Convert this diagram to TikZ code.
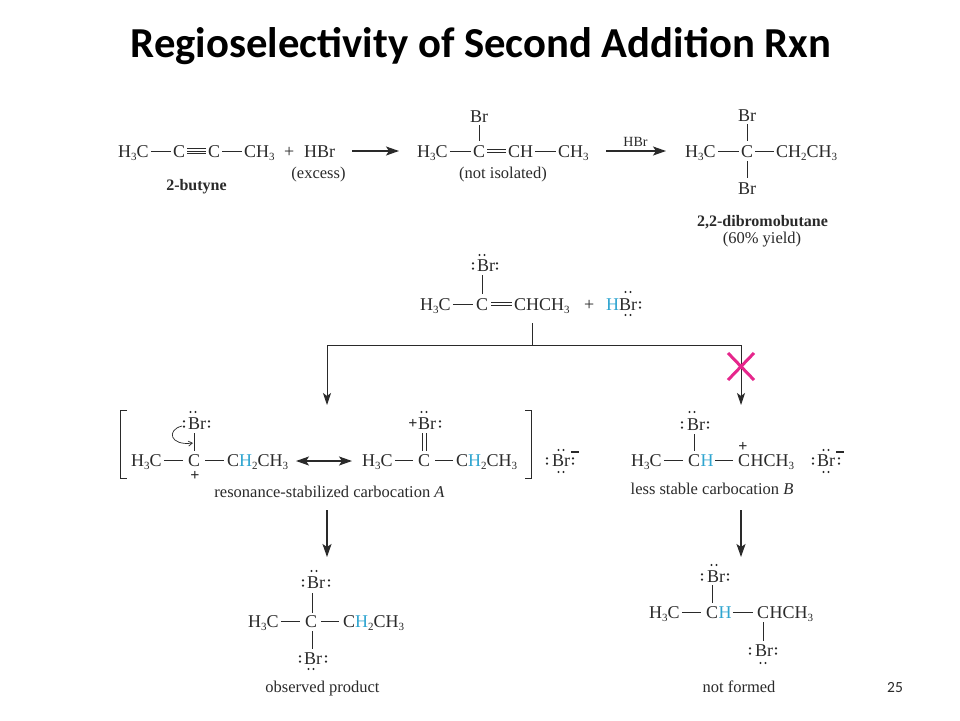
\documentclass[tikz,border=0pt]{standalone}
\usepackage{fontspec}
\setmainfont{Liberation Serif}
\newfontfamily\calib{Carlito}
\usetikzlibrary{arrows.meta}
\definecolor{ink}{HTML}{2A2A2A}
\definecolor{hblue}{HTML}{2FA5D0}
\definecolor{xpink}{HTML}{E6268C}
\newcommand{\sbs}[1]{\raisebox{-3.2pt}{\fontsize{11}{11}\selectfont #1}}
\newcommand{\HB}{\textcolor{hblue}{H}}
\newcommand{\lph}[2]{\fill[ink] (#1-2.5,#2) circle (1.2pt) (#1+2.5,#2) circle (1.2pt);}
\newcommand{\lpv}[2]{\fill[ink] (#1,#2-2.6) circle (1.2pt) (#1,#2+2.6) circle (1.2pt);}
\tikzset{
 atom/.style={anchor=base west,inner sep=0pt,text height=12pt,text depth=0pt,font=\fontsize{18}{18}\selectfont,text=ink},
 lab/.style={anchor=base,inner sep=0pt,font=\fontsize{16.5}{18}\selectfont,text=ink},
 blab/.style={lab,font=\fontsize{16}{18}\selectfont\bfseries},
 chg/.style={anchor=center,inner sep=0pt,font=\fontsize{16}{16}\selectfont\bfseries,text=ink},
 bond/.style={draw=ink,line width=1pt},
 line/.style={draw=ink,line width=.9pt},
 rxn/.style={draw=ink,line width=1.5pt,-{Stealth[length=13pt,width=9pt,inset=3pt]}},
 brk/.style={draw=ink,line width=.85pt}
}
\begin{document}
\begin{tikzpicture}[x=1pt,y=-1pt]
\useasboundingbox (0,0) rectangle (960,720);
\fill[white] (0,0) rectangle (960,720);
% title
\node[anchor=base,inner sep=0pt,font=\calib\bfseries\fontsize{42.7}{44}\selectfont,text=black] (title) at (481,57) {Regioselectivity of Second Addition Rxn};
\node[anchor=base,inner sep=0pt,font=\calib\fontsize{15.5}{15.5}\selectfont,text=ink] (page) at (895,692) {25};

% --- row 1
\node[atom] (a1) at (118,157) {H\sbs{3}C};
\node[atom] (a2) at (173,157) {C};
\node[atom] (a3) at (208,157) {C};
\node[atom] (a4) at (244,157) {CH\sbs{3}};
\draw[bond] ([xshift=2pt]a1.east) -- ([xshift=-2pt]a2.west);
\draw[bond] ([xshift=2pt,yshift=2.6pt]a2.east) -- ([xshift=-2pt,yshift=2.6pt]a3.west);
\draw[bond] ([xshift=2pt]a2.east) -- ([xshift=-2pt]a3.west);
\draw[bond] ([xshift=2pt,yshift=-2.6pt]a2.east) -- ([xshift=-2pt,yshift=-2.6pt]a3.west);
\draw[bond] ([xshift=2pt]a3.east) -- ([xshift=-2pt]a4.west);
\node[atom] (pl1) at (284,157) {+};
\node[atom] (hbr1) at (304,157) {HBr};
\node[lab] (exc) at (318.5,178) {(excess)};
\node[blab] (but) at (196.5,190) {2-butyne};
\coordinate (r1a) at (352,151); \coordinate (r1b) at (399,151);
\draw[rxn] (r1a) -- (r1b);

\node[atom] (b1) at (417,157) {H\sbs{3}C};
\node[atom] (b2) at (473,157) {C};
\node[atom] (b3) at (508,157) {CH};
\node[atom] (b4) at (558,157) {CH\sbs{3}};
\node[atom] (bbr) at (470,122) {Br};
\draw[bond] ([xshift=2pt]b1.east) -- ([xshift=-2pt]b2.west);
\draw[bond] ([xshift=2pt,yshift=1.6pt]b2.east) -- ([xshift=-2pt,yshift=1.6pt]b3.west);
\draw[bond] ([xshift=2pt,yshift=-1.6pt]b2.east) -- ([xshift=-2pt,yshift=-1.6pt]b3.west);
\draw[bond] ([xshift=2pt]b3.east) -- ([xshift=-2pt]b4.west);
\draw[bond] ([yshift=4pt]b2.north) -- ([yshift=-3pt]b2.north |- bbr.south);
\node[lab] (nis) at (503,178) {(not isolated)};
\coordinate (r2a) at (606,151); \coordinate (r2b) at (666,151);
\draw[rxn] (r2a) -- (r2b);
\node[lab,font=\fontsize{14}{14}\selectfont] (hbr2) at (635.5,146) {HBr};

\node[atom] (c1) at (685,157) {H\sbs{3}C};
\node[atom] (c2) at (741,157) {C};
\node[atom] (c3) at (776,157) {CH\sbs{2}CH\sbs{3}};
\node[atom] (cbr1) at (738,121) {Br};
\node[atom] (cbr2) at (738,194) {Br};
\draw[bond] ([xshift=2pt]c1.east) -- ([xshift=-2pt]c2.west);
\draw[bond] ([xshift=2pt]c2.east) -- ([xshift=-2pt]c3.west);
\draw[bond] ([yshift=4pt]c2.north) -- ([yshift=-3pt]c2.north |- cbr1.south);
\draw[bond] ([yshift=-4pt]c2.south) -- ([yshift=4pt]c2.south |- cbr2.north);
\node[blab] (dib) at (762.5,226) {2,2-dibromobutane};
\node[lab] (yld) at (762,243) {(60\% yield)};

% --- middle reagent
\node[atom] (d1) at (420,310) {H\sbs{3}C};
\node[atom] (d2) at (476,310) {C};
\node[atom] (d3) at (514,310) {CHCH\sbs{3}};
\node[atom] (dbr) at (477,271) {Br};
\draw[bond] ([xshift=2pt]d1.east) -- ([xshift=-3pt]d2.west);
\draw[bond] ([xshift=3pt,yshift=1.6pt]d2.east) -- ([xshift=-2pt,yshift=1.6pt]d3.west);
\draw[bond] ([xshift=3pt,yshift=-1.6pt]d2.east) -- ([xshift=-2pt,yshift=-1.6pt]d3.west);
\draw[bond] ([yshift=4pt]d2.north) -- ([yshift=-4pt]d2.north |- dbr.south);
\lph{482}{255} \lpv{473}{266} \lpv{497}{266}
\node[atom] (pl2) at (584,310) {+};
\node[atom] (hbr3) at (606,310) {\HB Br};
\lph{628}{292} \lph{628}{315} \lpv{640}{305}

% --- branch
\coordinate (j0) at (532,323);
\coordinate (j1) at (532,345);
\coordinate (jl) at (327,345);
\coordinate (jr) at (741,345);
\coordinate (jle) at (327,405);
\coordinate (jre) at (741,405);
\draw[line] (j0) -- (j1);
\draw[line,-{Stealth[length=12pt,width=8pt,inset=3pt]}] (j1) -- (jl) -- (jle);
\draw[line,-{Stealth[length=12pt,width=8pt,inset=3pt]}] (j1) -- (jr) -- (jre);
\draw[xpink,line width=3pt] (728,353) -- (754,380) (754,353) -- (728,380);

% --- left bracket, structure 1
\coordinate (bl1) at (127,410); \coordinate (bl2) at (120,410); \coordinate (bl3) at (120,478); \coordinate (bl4) at (127,478);
\draw[brk] (bl1) -- (bl2) -- (bl3) -- (bl4);
\node[atom] (e1) at (131,466) {H\sbs{3}C};
\node[atom] (e2) at (188,466) {C};
\node[atom] (e3) at (227,466) {C\HB\sbs{2}CH\sbs{3}};
\node[atom] (ebr) at (188,429) {Br};
\draw[bond] ([xshift=2pt]e1.east) -- ([xshift=-5pt]e2.west);
\draw[bond] ([xshift=5pt]e2.east) -- ([xshift=-3pt]e3.west);
\draw[bond] ([yshift=3pt]e2.north) -- ([yshift=-4pt]e2.north |- ebr.south);
\lph{193}{412} \lpv{184}{424} \lpv{209}{424}
\node[chg] (ep) at (195,475.5) {+};
\coordinate (ca) at (182,426); \coordinate (cb) at (193,443);
\draw[ink,line width=.7pt,-{Straight Barb[length=4pt,width=5pt]}] (ca) .. controls (166,430) and (170,446) .. (cb);
\coordinate (da) at (296,461); \coordinate (db) at (352,461);
\draw[line width=1.5pt,draw=ink,{Stealth[length=13pt,width=9pt,inset=3pt]}-{Stealth[length=13pt,width=9pt,inset=3pt]}] (da) -- (db);

% structure 2
\node[atom] (f1) at (362,466) {H\sbs{3}C};
\node[atom] (f2) at (418,466) {C};
\node[atom] (f3) at (456,466) {C\HB\sbs{2}CH\sbs{3}};
\node[atom] (fbr) at (418,429) {Br};
\draw[bond] ([xshift=2pt]f1.east) -- ([xshift=-5pt]f2.west);
\draw[bond] ([xshift=5pt]f2.east) -- ([xshift=-3pt]f3.west);
\draw[bond] ([xshift=-1.8pt,yshift=3pt]f2.north) -- ([xshift=-1.8pt,yshift=-4pt]f2.north |- fbr.south);
\draw[bond] ([xshift=1.8pt,yshift=3pt]f2.north) -- ([xshift=1.8pt,yshift=-4pt]f2.north |- fbr.south);
\lph{424}{412} \lpv{440}{424}
\node[chg] (fp) at (413,424) {+};
\coordinate (br1) at (525,410); \coordinate (br2) at (531,410); \coordinate (br3) at (531,478); \coordinate (br4) at (525,478);
\draw[brk] (br1) -- (br2) -- (br3) -- (br4);
\node[atom] (gbr) at (552,466) {Br};
\lph{561}{450} \lph{561}{472} \lpv{547}{461} \lpv{573}{461}
\coordinate (gm1) at (571,452); \coordinate (gm2) at (579,452);
\draw[ink,line width=1.5pt] (gm1) -- (gm2);
\node[lab] (resl) at (329.5,497) {resonance-stabilized carbocation \textit{A}};

% --- carbocation B
\node[atom] (h1) at (631,466) {H\sbs{3}C};
\node[atom] (h2) at (688,466) {C};
\node[atom] (h2h) at (h2.base east) {\HB};
\node[atom] (h3) at (738,466) {C};
\node[atom] (h3r) at (h3.base east) {HCH\sbs{3}};
\node[atom] (hbr) at (687,430) {Br};
\draw[bond] ([xshift=2pt]h1.east) -- ([xshift=-5pt]h2.west);
\draw[bond] ([xshift=1pt]h2h.east) -- ([xshift=-5pt]h3.west);
\draw[bond] ([yshift=3pt]h2.north) -- ([yshift=-4pt]h2.north |- hbr.south);
\lph{692}{412} \lpv{682}{425} \lpv{708}{425}
\node[chg] (hp) at (743,446.5) {+};
\node[atom] (ibr) at (817,466) {Br};
\lph{826}{450} \lph{826}{472} \lpv{813}{461} \lpv{839}{461}
\coordinate (im1) at (836,452); \coordinate (im2) at (844,452);
\draw[ink,line width=1.5pt] (im1) -- (im2);
\node[lab] (lss) at (712,494) {less stable carbocation \textit{B}};

% --- down arrows
\coordinate (v1a) at (327,510); \coordinate (v1b) at (327,557);
\coordinate (v2a) at (741,510); \coordinate (v2b) at (741,557);
\draw[rxn] (v1a) -- (v1b);
\draw[rxn] (v2a) -- (v2b);

% --- observed product
\node[atom] (k1) at (248,627) {H\sbs{3}C};
\node[atom] (k2) at (305,627) {C};
\node[atom] (k3) at (343,627) {C\HB\sbs{2}CH\sbs{3}};
\node[atom] (kbr1) at (307,588) {Br};
\node[atom] (kbr2) at (304,664) {Br};
\draw[bond] ([xshift=2pt]k1.east) -- ([xshift=-5pt]k2.west);
\draw[bond] ([xshift=4pt]k2.east) -- ([xshift=-4pt]k3.west);
\draw[bond] ([xshift=1pt,yshift=2pt]k2.north) -- ([xshift=1pt,yshift=-5pt]k2.north |- kbr1.south);
\draw[bond] ([xshift=1pt,yshift=-4pt]k2.south) -- ([xshift=1pt,yshift=3pt]k2.south |- kbr2.north);
\lph{314}{571} \lpv{303}{583} \lpv{329}{583}
\lph{311}{669} \lpv{300}{659} \lpv{326}{659}
\node[lab] (obs) at (322.5,692) {observed product};

% --- not formed
\node[atom] (m1) at (649,618) {H\sbs{3}C};
\node[atom] (m2) at (706,618) {C};
\node[atom] (m2h) at (m2.base east) {\HB};
\node[atom] (m3) at (757,618) {C};
\node[atom] (m3r) at (m3.base east) {HCH\sbs{3}};
\node[atom] (mbr1) at (707,582) {Br};
\node[atom] (mbr2) at (755,656) {Br};
\draw[bond] ([xshift=2pt]m1.east) -- ([xshift=-5pt]m2.west);
\draw[bond] ([xshift=1pt]m2h.east) -- ([xshift=-4pt]m3.west);
\draw[bond] ([yshift=3pt]m2.north) -- ([yshift=-3pt]m2.north |- mbr1.south);
\draw[bond] ([yshift=-4pt]m3.south) -- ([yshift=3pt]m3.south |- mbr2.north);
\lph{714}{565} \lpv{702}{577} \lpv{728}{577}
\lph{763}{663} \lpv{750}{651} \lpv{776}{651}
\node[lab] (ntf) at (739,692) {not formed};
\end{tikzpicture}
\end{document}
